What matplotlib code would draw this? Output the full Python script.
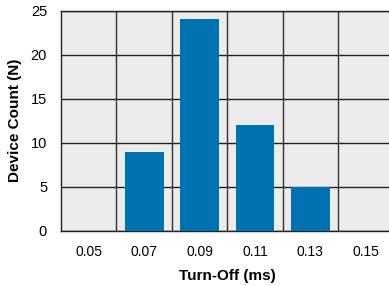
import matplotlib.pyplot as plt
import numpy as np

plt.rcParams['font.family'] = ['Liberation Sans', 'DejaVu Sans']

turn_off = [0.05, 0.07, 0.09, 0.11, 0.13, 0.15]
counts = [0, 9, 24, 12, 5, 0]
tick_labels = ["0.05", "0.07", "0.09", "0.11", "0.13", "0.15"]
bin_edges = [0.06, 0.08, 0.10, 0.12, 0.14]
y_ticks = [0, 5, 10, 15, 20, 25]

fig = plt.figure(figsize=(3.89, 2.86), dpi=100)
W, H = 389, 286
ax = fig.add_axes([61 / W, 1 - 231 / H, (393.5 - 61) / W, (231 - 10.5) / H])
ax.set_facecolor("#ececec")

ax.bar(turn_off, counts, width=0.014, color="#0072b2", zorder=3)

ax.set_xlim(0.04, 0.16)
ax.set_ylim(0, 25)
ax.set_xticks(turn_off)
ax.set_xticklabels(tick_labels, fontsize=10)
ax.set_xticks(bin_edges, minor=True)
ax.set_yticks(y_ticks)
ax.set_yticklabels([str(v) for v in y_ticks], fontsize=10.5)
ax.tick_params(which="both", length=0)
ax.tick_params(axis="x", pad=10)
ax.tick_params(axis="y", pad=10)

ax.grid(True, axis="y", which="major", color="#222222", linewidth=1.0, zorder=1)
ax.grid(True, axis="x", which="minor", color="#333333", linewidth=1.0, zorder=1)
ax.grid(False, axis="x", which="major")
ax.set_axisbelow(True)
for s in ax.spines.values():
    s.set_color("#222222")
    s.set_linewidth(1.0)

ax.set_xlabel("Turn-Off (ms)", fontsize=11, fontweight="bold", labelpad=7)
ax.set_ylabel("Device Count (N)", fontsize=11, fontweight="bold", labelpad=6)

fig.text(0.5, 1.0 + 3 / H, "(Turn-Off Time Distribution at 25 °C, Vin = 5 V, pulse)",
         ha="center", va="baseline", fontsize=11, fontweight="bold")

fig.savefig("out.png", dpi=100)
